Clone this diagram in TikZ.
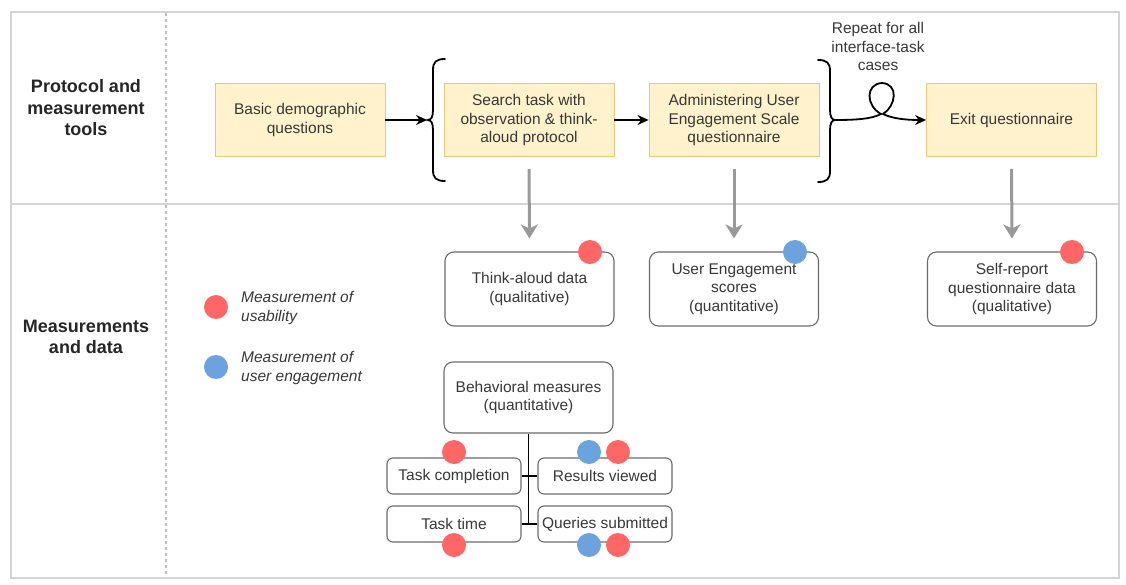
\documentclass[tikz,border=0pt]{standalone}
\usepackage{fontspec}
\setmainfont{Liberation Sans}
\usetikzlibrary{arrows.meta}
\definecolor{txt}{HTML}{383838}
\definecolor{frameg}{HTML}{D4D4D4}
\definecolor{sepg}{HTML}{BDBDBD}
\definecolor{yfill}{HTML}{FFF2CC}
\definecolor{yline}{HTML}{E8C878}
\definecolor{boxline}{HTML}{6A6A6A}
\definecolor{arrg}{HTML}{999999}
\definecolor{dotred}{HTML}{FF6666}
\definecolor{dotblue}{HTML}{6CA2DE}
\tikzset{
  norm/.style={font=\fontsize{15.5}{18.3}\selectfont, text=txt, align=center},
  lane/.style={font=\bfseries\fontsize{18}{21.5}\selectfont, text=black!85, align=center},
  ybox/.style={norm, draw=yline, fill=yfill, line width=0.9pt, minimum width=170pt, minimum height=73pt, inner sep=2pt},
  dbox/.style={norm, draw=boxline, fill=white, line width=1.1pt, rounded corners=9pt, minimum width=169pt, minimum height=74pt, inner sep=2pt},
  sbox/.style={norm, draw=boxline, fill=white, line width=1.1pt, rounded corners=6pt, minimum width=134pt, minimum height=36pt, inner sep=1pt},
  rdot/.style={circle, fill=dotred, minimum size=24pt, inner sep=0pt},
  bdot/.style={circle, fill=dotblue, minimum size=24pt, inner sep=0pt},
  legtext/.style={norm, font=\itshape\fontsize{15.5}{19}\selectfont, align=left, anchor=west, inner sep=0pt},
  frame/.style={draw=frameg, line width=2pt},
  sepline/.style={draw=sepg, line width=1.3pt, dash pattern=on 3pt off 3pt},
  blackarrow/.style={draw=black, line width=1.8pt, -{Stealth[length=11pt,width=10pt]}},
  grayarrow/.style={draw=arrg, line width=3pt, -{Stealth[length=14pt,width=17pt,inset=4pt]}},
  brace/.style={draw=black, line width=1.8pt, line cap=round},
  conn/.style={draw=black, line width=1.2pt}
}
\begin{document}
\begin{tikzpicture}[x=1pt,y=-1pt]
\useasboundingbox (0,0) rectangle (1126,585);
\fill[white] (0,0) rectangle (1126,585);

% frame
\draw[frame] (11,12) rectangle (1119,578);
\draw[frame] (11,204) -- (1119,204);
\draw[sepline] (166,13) -- (166,577);

% lane titles
\node[lane] (h1) at (86,108) {Protocol and\\measurement\\tools};
\node[lane] (h2) at (86,337) {Measurements\\and data};

% process boxes
\node[ybox] (basic) at (300,120) {Basic demographic\\questions};
\node[ybox] (search) at (529,120) {Search task with\\observation \& think-\\aloud protocol};
\node[ybox] (admin) at (734,120) {Administering User\\Engagement Scale\\questionnaire};
\node[ybox] (exit) at (1011.5,120) {Exit questionnaire};

% braces
\draw[brace] (445,59) .. controls (436,59) and (433,62) .. (433,70) -- (433,110)
  .. controls (433,117) and (431,120) .. (428,120)
  .. controls (431,120) and (433,123) .. (433,130) -- (433,170)
  .. controls (433,178) and (436,181) .. (445,181);
\coordinate (ltip) at (427,120);
\draw[brace] (818,60) .. controls (827,60) and (830,63) .. (830,71) -- (830,110)
  .. controls (830,117) and (832,120) .. (835,120)
  .. controls (832,120) and (830,123) .. (830,130) -- (830,171)
  .. controls (830,179) and (827,182) .. (818,182);
\coordinate (rtip) at (836,120);

% repeat label
\node[norm] (rep) at (878,46.5) {Repeat for all\\interface-task\\cases};

% black arrows
\draw[blackarrow] (basic.east) -- (ltip);
\draw[blackarrow] (search.east) -- (admin.west);
\draw[blackarrow] (rtip) .. controls (855,120) and (872,119) .. (881,114)
  .. controls (866,106) and (865,84) .. (882,83)
  .. controls (899,84) and (896,106) .. (883,114)
  .. controls (893,119) and (908,120) .. (exit.west);

% data boxes
\node[dbox] (think) at (529.5,289) {Think-aloud data\\(qualitative)};
\node[dbox] (ues) at (734,289) {User Engagement\\scores\\(quantitative)};
\node[dbox] (self) at (1012,289) {Self-report\\questionnaire data\\(qualitative)};

% gray arrows
\draw[grayarrow, shorten <=12pt, shorten >=13pt] (search.south) -- (think.north);
\draw[grayarrow, shorten <=12pt, shorten >=13pt] (admin.south) -- (ues.north);
\draw[grayarrow, shorten <=12pt, shorten >=13pt] (exit.south) -- (self.north);

% dots on data boxes
\node[rdot] (d1) at (590,252) {};
\node[bdot] (d2) at (795,252) {};
\node[rdot] (d3) at (1072,252) {};

% legend
\node[rdot] (lr) at (216,307) {};
\node[legtext] (lrt) at (241,308) {Measurement of\\usability};
\node[bdot] (lb) at (216,367) {};
\node[legtext] (lbt) at (241,368) {Measurement of\\user engagement};

% behavioral measures
\node[dbox, minimum height=71pt] (behav) at (528.5,397.5) {Behavioral measures\\(quantitative)};
\node[sbox] (tc) at (454,476) {Task completion};
\node[sbox] (rv) at (605,476) {Results viewed};
\node[sbox] (tt) at (454,524) {Task time};
\node[sbox] (qs) at (605,524) {Queries submitted};
\draw[conn] (behav.south) -- (behav.south |- tt.east);
\draw[conn] (tc.east) -- (rv.west);
\draw[conn] (tt.east) -- (qs.west);

% dots on behavioral
\node[rdot] (e1) at (454,452) {};
\node[bdot] (e2) at (589,452) {};
\node[rdot] (e3) at (618,452) {};
\node[rdot] (e4) at (454,545) {};
\node[bdot] (e5) at (589,545) {};
\node[rdot] (e6) at (618,545) {};
\end{tikzpicture}
\end{document}
